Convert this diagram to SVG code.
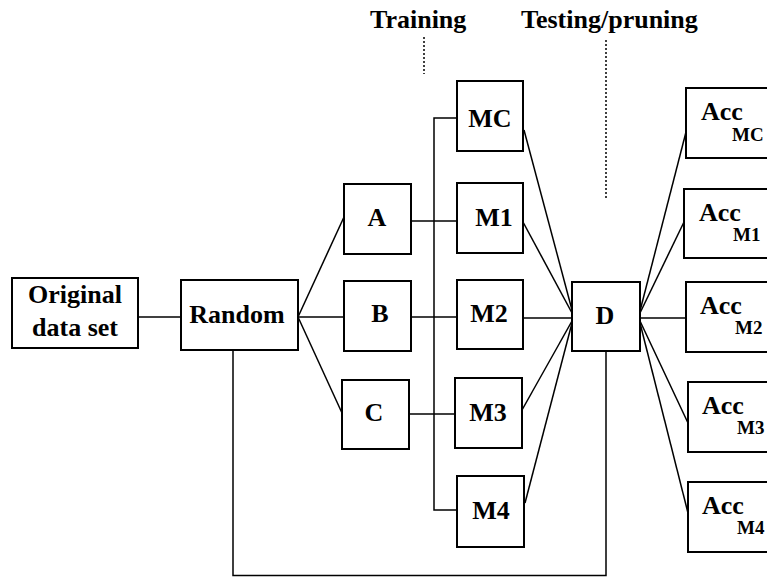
<svg xmlns="http://www.w3.org/2000/svg" width="767" height="577" viewBox="0 0 767 577">
  <style>
    .box { fill: #ffffff; stroke: #000000; stroke-width: 2; }
    .wire { fill: none; stroke: #000000; stroke-width: 1.5; }
    .dots { fill: none; stroke: #000000; stroke-width: 1.5; stroke-dasharray: 2 2; }
    text { font-family: 'Liberation Serif', 'Times New Roman', Times, 'DejaVu Serif', serif; font-weight: bold; fill: #000000; }
    .lbl { font-size: 26px; }
    .sub { font-size: 19px; }
  </style>
  <rect width="767" height="577" fill="#ffffff"/>

  <!-- phase labels with dotted leaders -->
  <g id="phase-labels">
    <text class="lbl" x="370" y="28">Training</text>
    <line class="dots" x1="424" y1="37" x2="424" y2="74"/>
    <text class="lbl" x="521" y="28">Testing/pruning</text>
    <line class="dots" x1="606" y1="40" x2="606" y2="199"/>
  </g>

  <!-- connectors -->
  <g id="connectors">
    <line class="wire" x1="138" y1="317" x2="181" y2="317"/>
    <line class="wire" x1="298" y1="317" x2="344" y2="217"/>
    <line class="wire" x1="298" y1="317" x2="344" y2="317"/>
    <line class="wire" x1="298" y1="317" x2="342" y2="413"/>
    <line class="wire" x1="411" y1="221" x2="457" y2="221"/>
    <line class="wire" x1="411" y1="317" x2="457" y2="317"/>
    <line class="wire" x1="409" y1="414" x2="455" y2="414"/>
    <polyline class="wire" points="457,118 434,118 434,510 457,510"/>
    <line class="wire" x1="524" y1="130" x2="572" y2="310"/>
    <line class="wire" x1="523" y1="222" x2="572" y2="313"/>
    <line class="wire" x1="523" y1="318" x2="572" y2="318"/>
    <line class="wire" x1="522" y1="410" x2="572" y2="321"/>
    <line class="wire" x1="525" y1="503" x2="572" y2="323"/>
    <line class="wire" x1="640" y1="311" x2="686" y2="132"/>
    <line class="wire" x1="640" y1="313" x2="684" y2="222"/>
    <line class="wire" x1="640" y1="318" x2="686" y2="318"/>
    <line class="wire" x1="640" y1="321" x2="688" y2="423"/>
    <line class="wire" x1="640" y1="323" x2="688" y2="513"/>
    <polyline class="wire" points="233,350 233,575.5 606,575.5 606,351"/>
  </g>

  <g id="original">
    <rect class="box" x="12" y="278" width="126" height="70"/>
    <text class="lbl" x="75" y="303" text-anchor="middle">Original</text>
    <text class="lbl" x="75" y="336" text-anchor="middle">data set</text>
  </g>
  <g id="random">
    <rect class="box" x="181" y="280" width="117" height="70"/>
    <text class="lbl" x="237" y="323" text-anchor="middle">Random</text>
  </g>

  <g id="A">
    <rect class="box" x="344" y="184" width="67" height="70"/>
    <text class="lbl" x="377" y="226" text-anchor="middle">A</text>
  </g>
  <g id="B">
    <rect class="box" x="344" y="281" width="67" height="70"/>
    <text class="lbl" x="380" y="322" text-anchor="middle">B</text>
  </g>
  <g id="C">
    <rect class="box" x="342" y="380" width="67" height="69"/>
    <text class="lbl" x="374" y="421" text-anchor="middle">C</text>
  </g>

  <g id="MC">
    <rect class="box" x="457" y="81" width="66" height="70"/>
    <text class="lbl" x="490" y="127" text-anchor="middle">MC</text>
  </g>
  <g id="M1">
    <rect class="box" x="457" y="183" width="66" height="70"/>
    <text class="lbl" x="494" y="226" text-anchor="middle">M1</text>
  </g>
  <g id="M2">
    <rect class="box" x="457" y="280" width="66" height="69"/>
    <text class="lbl" x="489" y="322" text-anchor="middle">M2</text>
  </g>
  <g id="M3">
    <rect class="box" x="455" y="378" width="67" height="70"/>
    <text class="lbl" x="488" y="421" text-anchor="middle">M3</text>
  </g>
  <g id="M4">
    <rect class="box" x="457" y="476" width="67" height="71"/>
    <text class="lbl" x="491" y="519" text-anchor="middle">M4</text>
  </g>

  <g id="D">
    <rect class="box" x="572" y="282" width="68" height="69"/>
    <text class="lbl" x="605" y="324" text-anchor="middle">D</text>
  </g>

  <g id="acc-MC">
    <rect class="box" x="686" y="88" width="100" height="70"/>
    <text class="lbl" x="701" y="120">Acc</text>
    <text class="sub" x="732" y="141">MC</text>
  </g>
  <g id="acc-M1">
    <rect class="box" x="684" y="189" width="100" height="69"/>
    <text class="lbl" x="699" y="221">Acc</text>
    <text class="sub" x="733" y="241">M1</text>
  </g>
  <g id="acc-M2">
    <rect class="box" x="686" y="282" width="100" height="70"/>
    <text class="lbl" x="700" y="314">Acc</text>
    <text class="sub" x="735" y="334">M2</text>
  </g>
  <g id="acc-M3">
    <rect class="box" x="688" y="382" width="100" height="70"/>
    <text class="lbl" x="702" y="414">Acc</text>
    <text class="sub" x="737" y="434">M3</text>
  </g>
  <g id="acc-M4">
    <rect class="box" x="688" y="482" width="100" height="70"/>
    <text class="lbl" x="702" y="514">Acc</text>
    <text class="sub" x="737" y="534">M4</text>
  </g>
</svg>
